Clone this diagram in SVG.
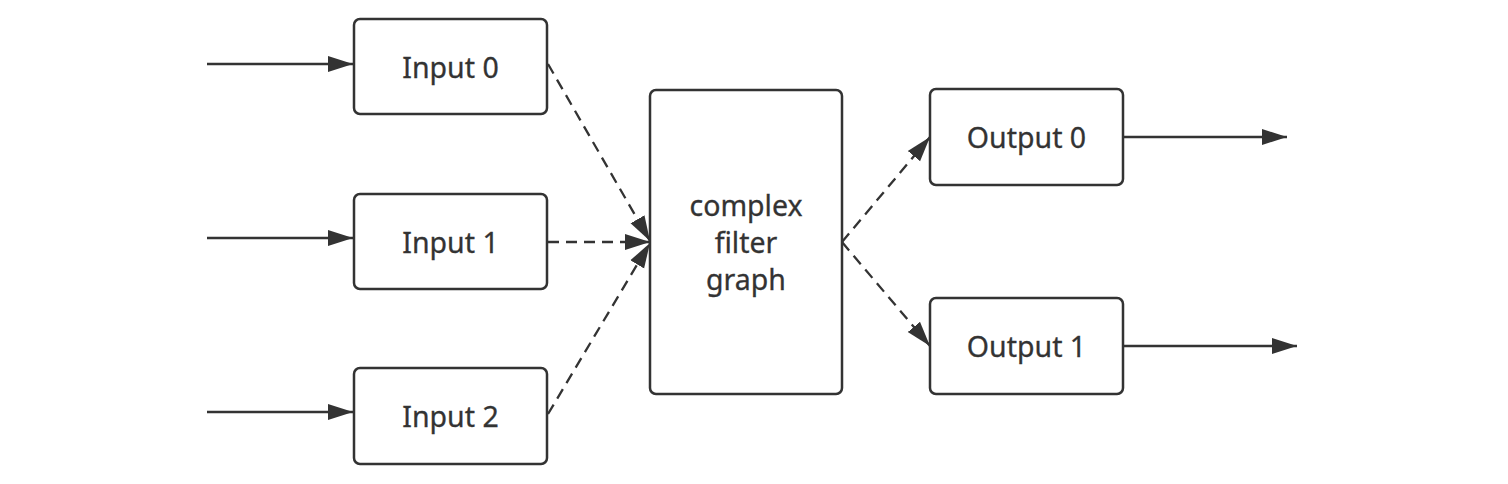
<svg xmlns="http://www.w3.org/2000/svg" width="1508" height="484" viewBox="0 0 1508 484">
<style>
.box{fill:#fff;stroke:#333;stroke-width:2.5}
.lbl{font-family:"Noto Sans","Liberation Sans",sans-serif;font-size:28.5px;fill:#333;stroke:#333;stroke-width:0.3;text-anchor:middle;dominant-baseline:central}
.solid{stroke:#333;stroke-width:2.3;fill:none}
.dash{stroke:#333;stroke-width:2.3;fill:none;stroke-dasharray:11 7}
</style>
<defs>
<marker id="arr" markerUnits="userSpaceOnUse" markerWidth="26" markerHeight="18" refX="25" refY="9" orient="auto">
<path d="M0,1 L25,9 L0,17 Z" fill="#333"/>
</marker>
</defs>
<rect width="1508" height="484" fill="#fff"/>
<g id="connectors">
<line class="solid" x1="207" y1="64" x2="353" y2="64" marker-end="url(#arr)"/>
<line class="solid" x1="207" y1="238" x2="353" y2="238" marker-end="url(#arr)"/>
<line class="solid" x1="207" y1="412" x2="353" y2="412" marker-end="url(#arr)"/>
<line class="dash" x1="548" y1="64" x2="650" y2="241" marker-end="url(#arr)"/>
<line class="dash" x1="548" y1="242" x2="650" y2="242" marker-end="url(#arr)"/>
<line class="dash" x1="548" y1="414" x2="650" y2="243" marker-end="url(#arr)"/>
<line class="dash" x1="842" y1="242" x2="930" y2="137" marker-end="url(#arr)"/>
<line class="dash" x1="842" y1="242" x2="930" y2="346" marker-end="url(#arr)"/>
<line class="solid" x1="1123" y1="137" x2="1287" y2="137" marker-end="url(#arr)"/>
<line class="solid" x1="1123" y1="346" x2="1297" y2="346" marker-end="url(#arr)"/>
</g>
<g id="input0"><rect class="box" x="354" y="19" width="193" height="95" rx="6"/><text class="lbl" x="450.5" y="67">Input 0</text></g>
<g id="input1"><rect class="box" x="354" y="194" width="193" height="95" rx="6"/><text class="lbl" x="450.5" y="242">Input 1</text></g>
<g id="input2"><rect class="box" x="354" y="368" width="193" height="96" rx="6"/><text class="lbl" x="450.5" y="416">Input 2</text></g>
<g id="filter"><rect class="box" x="650" y="90" width="192" height="304" rx="6"/>
<text class="lbl" x="746" y="205">complex</text><text class="lbl" x="746" y="242">filter</text><text class="lbl" x="746" y="279">graph</text></g>
<g id="output0"><rect class="box" x="930" y="89" width="193" height="96" rx="6"/><text class="lbl" x="1026.5" y="137">Output 0</text></g>
<g id="output1"><rect class="box" x="930" y="298" width="193" height="96" rx="6"/><text class="lbl" x="1026.5" y="346">Output 1</text></g>
</svg>
